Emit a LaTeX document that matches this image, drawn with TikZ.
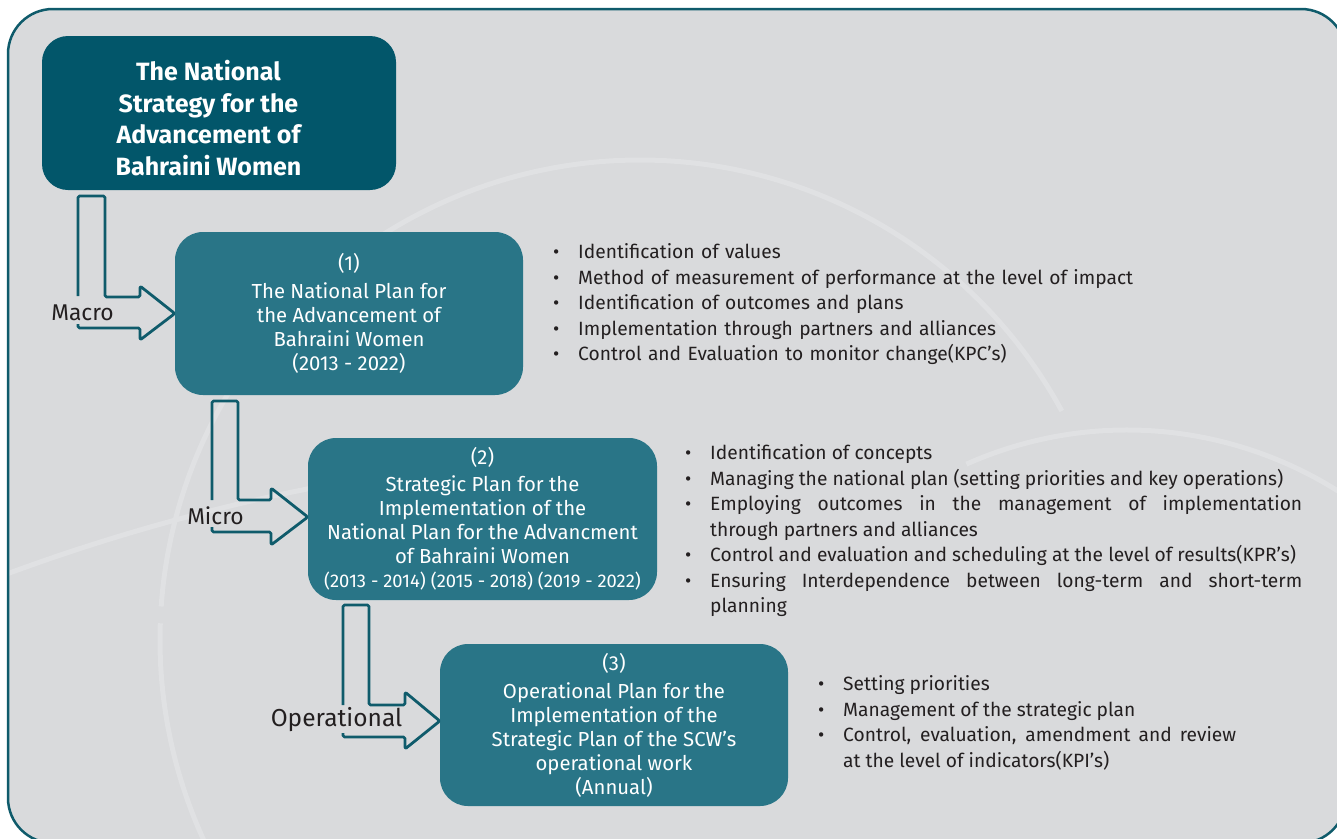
\documentclass[tikz,border=0pt]{standalone}
\usepackage{fontspec}
\setmainfont{Fira Sans}
\usetikzlibrary{calc}
\definecolor{bgray}{HTML}{D9DADC}
\definecolor{framec}{HTML}{0F5B6B}
\definecolor{darkteal}{HTML}{02566A}
\definecolor{tealbox}{HTML}{297587}
\definecolor{arcgray}{HTML}{E0E1E3}
\definecolor{txt}{HTML}{231F20}
\newcommand{\bitem}[1]{\par\noindent\llap{\makebox[25pt][l]{\textbullet}}#1}
\begin{document}
\begin{tikzpicture}[x=1pt,y=-1pt,
  plan/.style={fill=tealbox, rounded corners=28pt, inner sep=0pt, text=white, align=center,
    font=\fontsize{20.3}{24}\selectfont},
  lbl/.style={text=txt, inner sep=0pt, font=\fontsize{22.8}{24}\selectfont},
  larr/.style={draw=framec, line width=2.8pt, rounded corners=1.5pt, line join=round},
  bul/.style={text=txt, inner sep=0pt, anchor=north west, align=justify,
    font=\fontsize{19.2}{25.5}\selectfont},
  deco/.style={draw=arcgray, line width=5pt}]
\useasboundingbox (0,0) rectangle (1337,838);
\fill[white] (0,0) rectangle (1337,838);
\begin{scope}
\clip (0,0) rectangle (1337,838);
\fill[bgray, rounded corners=45pt] (8,9) rectangle (1346,843);
\begin{scope}
\clip[rounded corners=45pt] (8,9) rectangle (1346,843);
\draw[deco] (640,640) ++(153.5:480) arc[start angle=153.5, end angle=182, radius=480];
\draw[deco] (640,640) ++(184:480) arc[start angle=184, end angle=235, radius=480];
\draw[deco] (640,640) ++(237:480) arc[start angle=237, end angle=331.5, radius=480];
\draw[deco] (1127,825) ++(246:395) arc[start angle=246, end angle=320, radius=395];
\draw[deco] (700,2450) ++(249:2000) arc[start angle=249, end angle=259, radius=2000];
\end{scope}
\draw[framec, line width=2.5pt, rounded corners=45pt] (8,9) rectangle (1346,843);
\end{scope}

% title
\node[fill=darkteal, rounded corners=26pt, minimum width=354pt, minimum height=154pt, inner sep=0pt] (t0) at (219,113) {};
\node[text=white, align=center, inner sep=0pt, font=\fontsize{25}{31.5}\selectfont\bfseries] (t0txt) at (208.5,118)
  {The National\\Strategy for the\\Advancement of\\Bahraini Women};

% plans
\node[plan, minimum width=348pt, minimum height=163pt] (b1) at (349,313.5)
  {(1)\\[4pt]The National Plan for\\the Advancement of\\Bahraini Women\\(2013 - 2022)};
\node[plan, minimum width=349pt, minimum height=162pt] (b2) at (482.5,519)
  {(2)\\[3pt]Strategic Plan for the\\Implementation of the\\National Plan for the Advancment\\of Bahraini Women\\{\fontsize{18.4}{24}\selectfont(2013 - 2014) (2015 - 2018) (2019 - 2022)}};
\node[plan, minimum width=348pt, minimum height=162pt] (b3) at (614,725)
  {(3)\\[4pt]Operational Plan for the\\Implementation of the\\Strategic Plan of the SCW’s\\operational work\\(Annual)};

% arrows
\draw[larr] (78,296) -- (78,196) -- (105,196) -- (105,297) -- (140,297) -- (140,286)
  -- (b1.west) -- (140,340) -- (140,328) -- (78,328) -- (78,324);
\draw[larr] (212,500) -- (212,401) -- (238,401) -- (238,500) -- (271,500) -- (271,488)
  -- ($(b2.west)+(0,-2)$) -- (271,545) -- (271,532) -- (212,532) -- (212,527);
\draw[larr] (343,705) -- (343,605) -- (369,605) -- (369,705) -- (405,705) -- (405,692)
  -- ($(b3.west)+(0,-4)$) -- (405,749) -- (405,737) -- (343,737) -- (343,733);

\node[lbl] (lmacro) at (82.5,313) {Macro};
\node[lbl] (lmicro) at (215.5,516) {Micro};
\node[lbl, font=\fontsize{24.5}{26}\selectfont] (loper) at (336.5,720) {Operational};

% lists
\node[bul, text width=600pt, align=left] (l1) at (553,233) {\leftskip=25pt
  \bitem{Identification of values}
  \bitem{Method of measurement of performance at the level of impact}
  \bitem{Identification of outcomes and plans}
  \bitem{Implementation through partners and alliances}
  \bitem{Control and Evaluation to monitor change(KPC’s)}\par};
\node[bul, text width=618pt] (l2) at (684,434) {\leftskip=26pt
  \bitem{Identification of concepts}
  \bitem{Managing the national plan (setting priorities and key operations)}
  \bitem{Employing outcomes in the management of implementation\linebreak through partners and alliances}
  \bitem{Control and evaluation and scheduling at the level of results(KPR’s)}
  \bitem{Ensuring Interdependence between long-term and short-term\linebreak planning}\par};
\node[bul, text width=420pt] (l3) at (816,665) {\leftskip=27pt
  \bitem{Setting priorities}
  \bitem{Management of the strategic plan}
  \bitem{Control, evaluation, amendment and review\linebreak at the level of indicators(KPI’s)}\par};
\end{tikzpicture}
\end{document}
